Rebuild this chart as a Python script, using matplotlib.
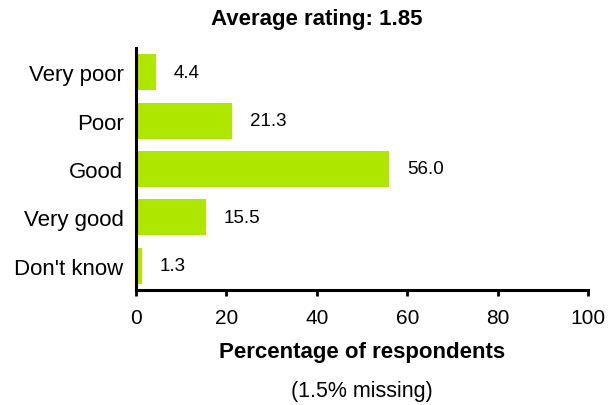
import matplotlib
matplotlib.use("Agg")
import matplotlib.pyplot as plt

categories = ["Very poor", "Poor", "Good", "Very good", "Don't know"]
values = [4.4, 21.3, 56.0, 15.5, 1.3]
xticks = [0, 20, 40, 60, 80, 100]
title = "Average rating: 1.85"
xlabel = "Percentage of respondents"
note = "(1.5% missing)"

plt.rcParams['font.family'] = ['Liberation Sans', 'DejaVu Sans']

fig = plt.figure(figsize=(6.11, 4.06), dpi=100)
ax = fig.add_axes([136/611, 1-291/406, (588-136)/611, (291-49)/406])

ypos = list(range(len(categories)))
ax.barh(ypos, values, height=0.74, color="#AEE600", edgecolor="none")
ax.set_ylim(len(categories)-0.5, -0.5)
ax.set_xlim(0, 100)
ax.set_yticks(ypos)
ax.set_yticklabels(categories, fontsize=16)
ax.set_xticks(xticks)
ax.set_xticklabels([str(t) for t in xticks], fontsize=15)
ax.tick_params(axis='y', length=0, pad=9)
ax.tick_params(axis='x', length=4, width=2, direction='out', pad=9)
for s in ['top', 'right']:
    ax.spines[s].set_visible(False)
for s in ['left', 'bottom']:
    ax.spines[s].set_linewidth(2.2)

for y, v in zip(ypos, values):
    ax.annotate(f"{v:.1f}", xy=(v, y), xytext=(13, 0), textcoords='offset points',
                ha='left', va='center', fontsize=13.5)

ax.set_xlabel(xlabel, fontsize=16, fontweight='bold', labelpad=10)
fig.text(317/611, 1-19/406, title, ha='center', va='center', fontsize=16, fontweight='bold')
fig.text(362/611, 1-392/406, note, ha='center', va='center', fontsize=15.5)

fig.savefig("out.png", dpi=100)
